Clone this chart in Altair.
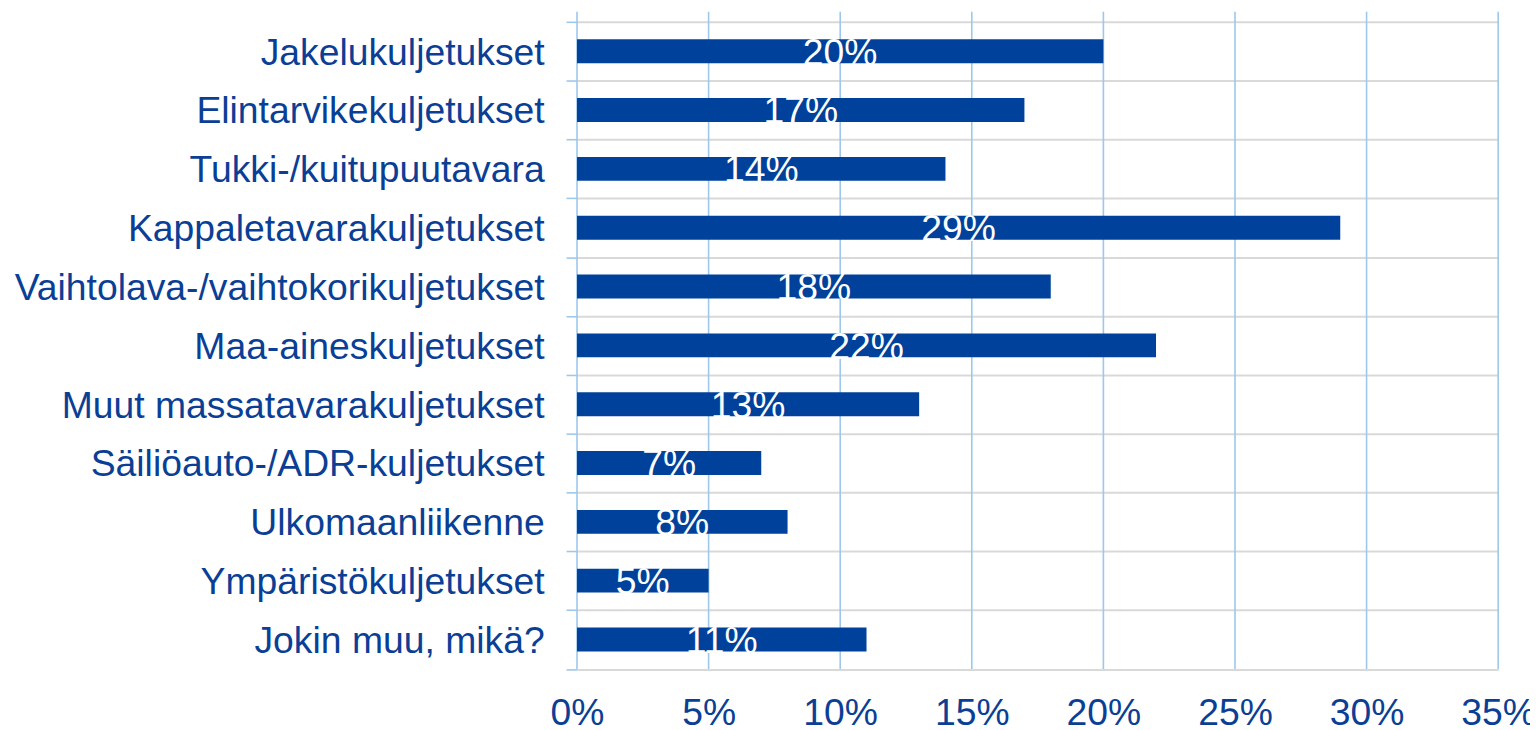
import altair as alt
import pandas as pd

categories = [
    "Jakelukuljetukset",
    "Elintarvikekuljetukset",
    "Tukki-/kuitupuutavara",
    "Kappaletavarakuljetukset",
    "Vaihtolava-/vaihtokorikuljetukset",
    "Maa-aineskuljetukset",
    "Muut massatavarakuljetukset",
    "Säiliöauto-/ADR-kuljetukset",
    "Ulkomaanliikenne",
    "Ympäristökuljetukset",
    "Jokin muu, mikä?",
]
values = [0.20, 0.17, 0.14, 0.29, 0.18, 0.22, 0.13, 0.07, 0.08, 0.05, 0.11]
x_ticks = [0.0, 0.05, 0.10, 0.15, 0.20, 0.25, 0.30, 0.35]

FONT = "Liberation Sans"
FS = 37.5
BAR = "#00429B"
TEXT = "#0B3F96"
BLUE_GRID = "#9DC8EC"
GRAY_GRID = "#D9D9D9"

df = pd.DataFrame({"cat": categories, "val": values})
ticks_df = pd.DataFrame({"t": x_ticks})

xscale = alt.Scale(domain=[0, 0.35], nice=False, zero=True)
xaxis = alt.Axis(
    values=x_ticks,
    format=".0%",
    grid=False,
    domain=False,
    ticks=False,
    tickSize=0,
    labelPadding=26,
    labelFlush=False,
    labelFont=FONT,
    labelFontSize=FS,
    labelColor=TEXT,
)

grid = alt.Chart(ticks_df).mark_rule(color=BLUE_GRID, strokeWidth=1.6).encode(
    x=alt.X("t:Q", scale=xscale, axis=xaxis, title=None),
    y=alt.value(-10),
    y2=alt.value("height"),
)

bars = alt.Chart(df).mark_bar(color=BAR, size=24).encode(
    x=alt.X("val:Q", scale=xscale, title=None, axis=xaxis),
    y=alt.Y(
        "cat:N",
        sort=None,
        title=None,
        scale=alt.Scale(paddingInner=0, paddingOuter=0),
        axis=alt.Axis(
            tickBand="extent",
            grid=True,
            gridColor=GRAY_GRID,
            gridWidth=2,
            domain=False,
            ticks=True,
            tickColor=BLUE_GRID,
            tickSize=11,
            tickWidth=1.6,
            labelPadding=22,
            labelOffset=2,
            labelFont=FONT,
            labelFontSize=FS,
            labelColor=TEXT,
            labelLimit=1000,
        ),
    ),
)

labels = alt.Chart(df).transform_calculate(mid="datum.val / 2").mark_text(
    color="white", font=FONT, fontSize=FS, baseline="alphabetic", align="center", dy=13.5
).encode(
    x=alt.X("mid:Q", scale=xscale, axis=xaxis, title=None),
    y=alt.Y("cat:N", sort=None),
    text=alt.Text("val:Q", format=".0%"),
)

chart = (
    alt.layer(grid, bars, labels)
    .properties(
        width=1530,
        height=720,
        padding={"left": 6, "top": -7, "right": -6, "bottom": -6.5},
        autosize=alt.AutoSizeParams(type="fit", contains="padding"),
    )
    .configure_view(stroke=None)
)

chart.save("out.html", embed_options={"renderer": "svg", "actions": False})
